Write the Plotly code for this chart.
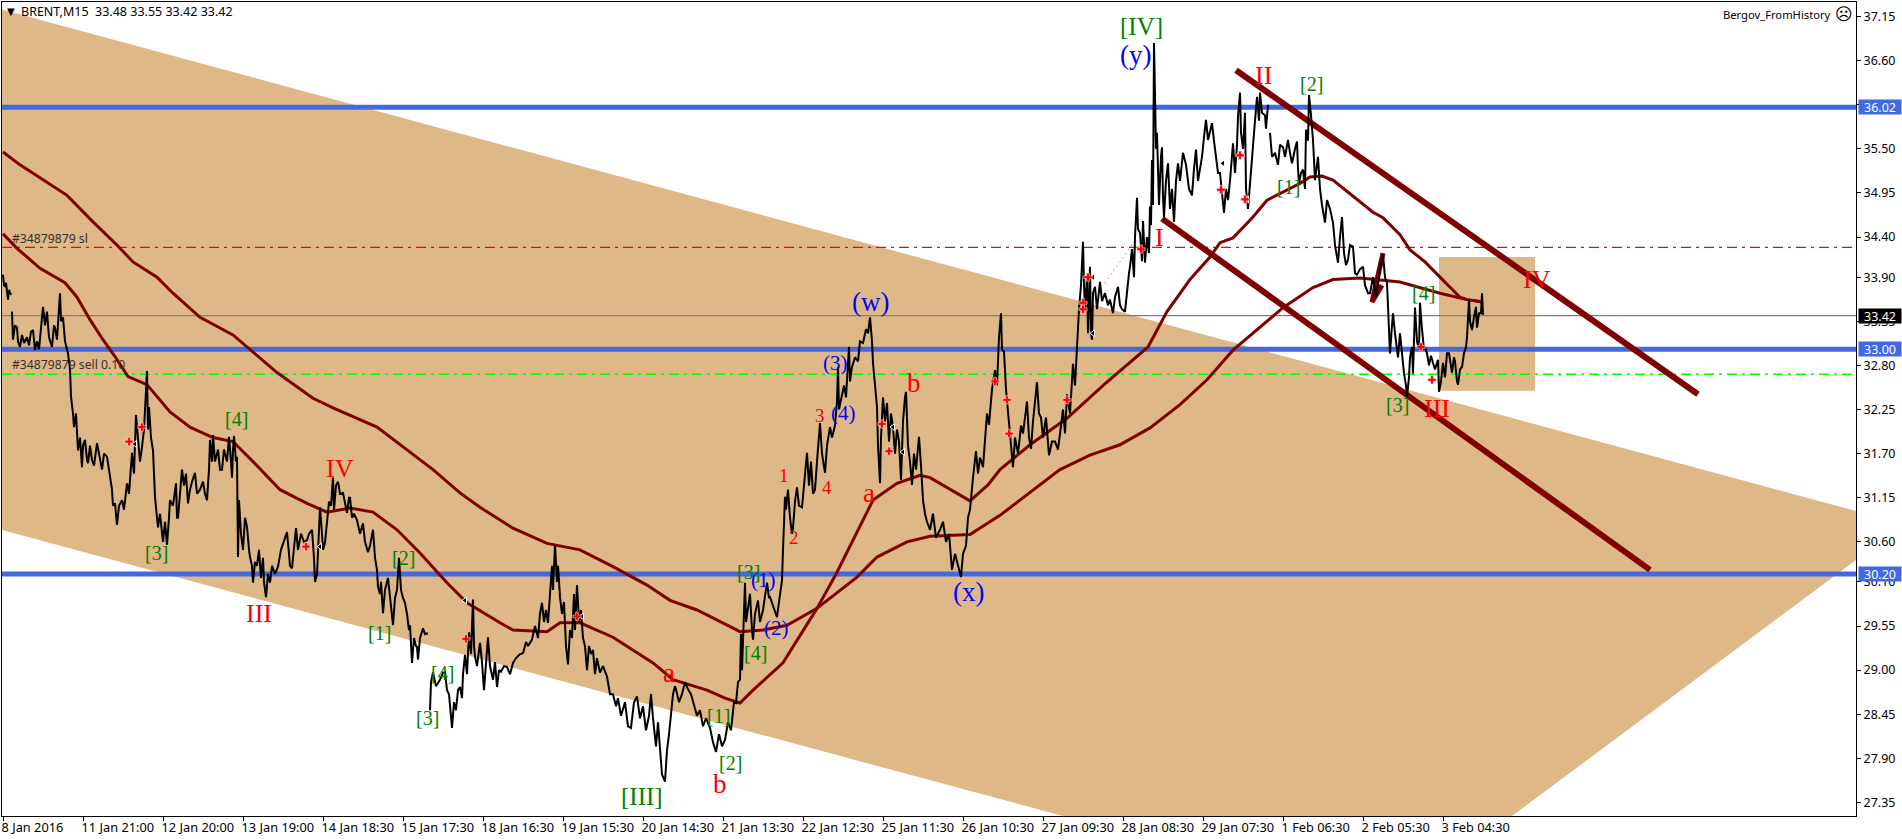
import plotly.graph_objects as go

tick_bars = [3.5 + 80 * i for i in range(19)]
tick_dates = ["8 Jan 2016", "11 Jan 21:00", "12 Jan 20:00", "13 Jan 19:00", "14 Jan 18:30", "15 Jan 17:30",
              "18 Jan 16:30", "19 Jan 15:30", "20 Jan 14:30", "21 Jan 13:30", "22 Jan 12:30", "25 Jan 11:30",
              "26 Jan 10:30", "27 Jan 09:30", "28 Jan 08:30", "29 Jan 07:30", "1 Feb 06:30", "2 Feb 05:30",
              "3 Feb 04:30"]
price_ticks = [37.15, 36.60, 36.05, 35.50, 34.95, 34.40, 33.90, 33.35, 32.80, 32.25, 31.70, 31.15, 30.60,
               30.10, 29.55, 29.00, 28.45, 27.90, 27.35]

close_text = """
3:33.93 4:33.80 5:33.78 6:33.83 8:33.62 9:33.74 11:33.68 11.5:x
12:33.47 13:33.12 15:33.30 17:33.27 18:33.10 20:33.03 22:33.18 24:33.08 27:33.15 29:33.05 31:33.22 33:33.24
35:32.99 37:33.10 39:33.00 41:33.30 43:33.53 45:33.30 47:33.47 49:33.15 52:33.03 54:33.30 55:33.27 57:33.12
60:33.70 61:33.35 63:33.40 65:33.10 68:32.95 70:32.75 71:32.41 73:32.20 74:32.03 76:32.20 78:31.74 80:31.90
82:31.53 83:31.80 85:31.87 87:31.62 88:31.58 90:31.80 92:31.62 94:31.55 97:31.83 99:31.70 102:31.50 104:31.70
107:31.66 109:31.50 112:31.25 113:31.05 115:31.08 117:30.81 119:31.05 122:31.12 124:31.00 127:31.33 129:31.20
132:31.71 134:31.45 136:32.18 138:31.90 140:31.60 142:31.78 144:32.00 147:32.73 148:32.00 149:32.28 151:31.90
153:31.74 154:31.30 155:31.16 157:30.90 158:30.78 160:30.95 163:30.60 165:30.85 167:30.56 169:30.90 170:31.12
173:31.05 176:31.33 177:30.90 178:30.90 180:31.20 182:31.50 184:31.30 186:31.45 188:31.08 190:31.25 192:31.35
195:31.46 197:31.20 200:31.25 203:31.35 205:31.20 207:31.12 209:31.50 210:31.87 212:31.60 213:31.93 215:31.60
218:31.75 220:31.50 222:31.50 224:31.75 227:31.60 229:31.91 231:31.60 232:31.40 233:31.75 234:31.92 236:31.60
237:31.66 238:30.41 239:31.12 241:30.70 243:30.50 245:30.90 247:30.79 249:30.50 250:30.41 252:30.30 253:30.09
255:30.35 257:30.30 259:30.50 261:30.15 263:30.40 264:30.10 266:29.91 268:30.20 270:30.09 272:30.30 275:30.20
278:30.29 281:30.50 284:30.60 287:30.72 289:30.45 290:30.30 292:30.27 294:30.55 296:30.77 298:30.50 301:30.70
304:30.60 307:30.62 309:30.70 312:30.75 314:30.40 315:30.10 317:30.19 318:30.50 320:31.03 322:30.70 323:30.50
325:30.59 327:30.85 329:31.10 331:31.05 333:31.40 334:31.00 336:31.30 338:31.35 340:31.20 343:31.21 345:31.10
347:30.96 349:31.15 350:31.15 352:30.90 354:30.95 357:30.87 360:30.70 363:30.83 365:30.60 368:30.47 370:30.55
373:30.75 375:30.40 377:30.25 378:30.04 380:29.95 381:30.10 383:29.71 385:30.00 388:30.15 390:29.90 391:29.80
393:29.56 395:29.90 397:30.00 399:30.40 401:30.00 403:29.90 405:29.84 407:29.70 409:29.50 410:29.56 411:29.20
412:29.09 414:29.40 416:29.30 417:29.29 418:29.13 420:29.40 423:29.52 425:29.45 428:29.46 429:x
430:28.50 431:28.85 433:28.97 436:28.80 440:28.88 443:28.97 445:28.97 447:28.75 449:28.70 451:28.35 452:28.28
454:28.60 456:28.50 458:28.75 460:28.79 462:28.65 463:28.95 465:29.19 467:28.95 469:29.47 471:29.20 473:29.88
474:29.30 475:29.17 477:29.05 480:29.34 482:29.10 484:28.75 486:29.10 488:29.41 490:29.05 493:28.88 495:29.10
497:28.79 499:29.00 501:28.98 504:29.05 507:29.04 510:28.95 513:29.09 516:29.15 520:29.20 523:29.21 526:29.35
528:29.30 532:29.38 535:29.55 538:29.40 540:29.70 542:29.84 544:29.60 546:29.75 548:29.59 550:30.00 552:30.30
553:30.00 555:30.56 557:30.10 558:30.30 560:29.91 562:29.70 564:29.85 566:29.30 568:29.07 570:29.50 572:29.40
574:29.95 575:29.50 577:30.06 579:29.60 581:29.75 583:29.40 585:29.30 587:29.00 589:29.30 591:29.20 593:29.25
595:28.95 597:29.15 600:28.97 603:29.05 607:28.92 610:28.70 613:28.70 616:28.55 618:28.65 621:28.43 625:28.60
628:28.30 631:28.28 634:28.60 637:28.67 640:28.40 643:28.55 646:28.25 649:28.43 651:28.70 653:28.40 656:28.05
658:28.35 660:27.95 662:27.70 665:27.61 667:28.00 669:28.20 671:28.43 673:28.70 675:28.80 676:28.76 679:28.60
682:28.70 685:28.85 688:28.76 691:28.70 694:28.55 697:28.43 700:28.50 703:28.30 706:28.40 710:28.28 713:28.10
716:27.98 719:28.20 722:28.05 725:28.13 728:28.35 731:28.25 734:28.60 736:28.59 738:28.85 740:28.88 741:29.45
742:29.00 743:29.38 745:30.09 746:29.60 748:29.79 750:29.95 752:29.50 753:29.38 755:29.70 758:29.87 760:29.60
763:29.75 767:30.09 769:29.90 770:29.91 773:29.80 775:29.72 777:29.66 779:29.85 782:30.12 783:30.50 785:31.16
786:31.00 788:31.25 790:30.90 792:30.70 793:30.77 795:31.10 797:31.28 799:31.05 802:31.03 804:31.30 807:31.71
809:31.30 811:31.60 813:31.20 815:31.25 817:31.60 820:32.08 822:31.70 823:31.60 825:31.46 827:31.80 830:32.03
832:31.90 835:32.05 837:32.35 838:32.78 839:32.25 842:32.41 844:32.55 846:32.40 849:33.03 850:32.60 852:32.78
855:32.90 858:32.85 860:33.10 863:33.08 866:33.25 868:33.20 870:33.40 872:33.10 873:32.83 875:32.55 877:32.28
878:31.80 880:31.33 881:31.90 883:32.40 885:32.10 887:32.33 889:31.85 891:32.20 893:32.03 895:31.70 897:32.00
899:31.85 901:31.37 903:32.10 905:32.40 906:32.47 908:31.80 910:31.60 912:31.31 914:31.70 916:31.50 919:31.91
921:31.55 923:31.12 925:30.95 927:30.85 930:30.75 933:30.95 936:30.65 940:30.75 943:30.85 946:30.60 949:30.70
951:30.35 952:30.25 955:30.45 958:30.30 961:30.16 963:30.45 966:30.55 968:30.90 970:31.00 973:31.40 976:31.73
978:31.45 980:31.65 983:31.53 985:31.85 987:32.20 989:32.06 992:32.50 995:32.74 997:32.55 999:33.15 1001:33.45
1002:33.00 1004:32.97 1006:32.50 1008:32.20 1009:32.07 1011:31.80 1013:31.53 1015:31.90 1018:31.70 1021:32.05
1023:31.95 1025:32.15 1027:32.35 1029:31.90 1031:31.76 1033:32.10 1035:32.40 1037:32.59 1039:32.20 1041:32.15
1043:31.90 1046:32.15 1049:31.68 1052:31.85 1055:31.85 1058:31.75 1061:32.05 1063:32.25 1065:31.95 1067:32.44
1070:32.20 1073:32.82 1075:32.55 1077:33.03 1079:33.50 1081:33.80 1083:34.34 1084:33.80 1085:33.50 1087:33.90
1088:33.20 1090:34.03 1091:33.20 1092:33.12 1093:33.70 1095:33.78 1097:33.50 1100:33.84 1102:33.60 1105:33.70
1108:33.55 1110:33.62 1113:33.45 1115:33.65 1118:33.78 1120:33.55 1122:33.50 1125:33.47 1127:33.75 1129:33.95
1130:34.03 1132:34.25 1134:33.90 1135:34.40 1137:34.89 1138:34.50 1140:34.45 1142:34.10 1143:34.60 1145:34.08
1147:34.40 1149:34.20 1150:34.78 1151:34.55 1152:35.36 1153:34.80 1154:36.82 1155:36.11 1156:35.50 1157:35.70
1158:35.11 1159:34.80 1161:35.40 1162:35.52 1163:34.90 1164:34.65 1166:35.10 1168:35.32 1170:34.75 1172:35.00
1174:34.59 1176:35.10 1178:35.32 1180:35.10 1183:35.45 1186:35.30 1189:35.00 1192:34.92 1194:35.25 1196:35.49
1198:35.10 1200:35.27 1202:35.40 1204:35.65 1206:35.86 1208:35.61 1210:35.70 1212:35.82 1214:35.60 1216:35.40
1218:35.20 1220:35.20 1222:34.90 1224:34.70 1226:35.00 1228:34.86 1230:35.10 1233:35.57 1235:35.20 1237:35.55
1238:35.90 1240:36.20 1241:35.70 1243:35.50 1245:35.95 1246:35.00 1248:34.75 1250:35.10 1253:35.57 1255:35.85
1257:36.15 1259:35.85 1260:36.20 1262:35.95 1265:35.92 1266:35.75 1268:36.05 1269:x
1270:35.70 1272:35.40 1275:35.45 1278:35.30 1280:35.55 1283:35.52 1285:35.40 1288:35.61 1290:35.45 1292:35.32
1295:35.50 1297:35.59 1298:35.25 1299:35.07 1301:35.20 1303:35.24 1305:35.00 1306:35.74 1308:35.60 1309:36.17
1311:35.92 1313:35.61 1315:35.11 1318:35.40 1320:35.00 1322:34.80 1325:34.58 1327:34.86 1330:34.75 1333:34.58
1335:34.30 1338:34.08 1340:34.40 1342:34.65 1344:34.20 1346:34.05 1348:34.12 1350:34.30 1353:34.28 1355:33.95
1357:33.93 1360:34.00 1363:34.03 1365:33.80 1368:33.70 1370:33.70 1373:33.90 1376:33.65 1378:33.80 1380:34.00
1383:34.18 1385:33.90 1387:33.83 1388:33.49 1390:32.95 1392:33.30 1393:33.45 1395:33.20 1397:32.95 1398:32.90
1400:33.20 1402:32.90 1404:32.70 1406:32.55 1407:32.41 1409:32.65 1410:32.90 1412:33.03 1413:32.70 1415:33.52
1417:33.10 1419:33.00 1420:33.58 1422:33.25 1424:33.00 1425:33.03 1427:32.95 1429:32.80 1431:32.92 1433:32.83
1435:32.75 1438:32.87 1439:32.47 1441:32.60 1443:32.83 1445:32.65 1447:32.95 1449:32.95 1451:32.75 1452:32.71
1454:32.90 1455:32.85 1457:32.60 1458:32.56 1460:32.75 1462:32.78 1464:32.95 1466:33.03 1467:33.15 1469:33.62
1470:33.35 1472:33.24 1474:33.40 1476:33.53 1477:33.27 1479:33.45 1481:33.45 1482:33.70 1483:33.43
"""
close_bars = [float(t.split(":")[0]) for t in close_text.split()]
close_prices = [None if t.endswith("x") else float(t.split(":")[1]) for t in close_text.split()]

slow_ma_bars = [3, 20, 40, 67, 93, 117, 133, 157, 173, 200, 233, 253, 277, 313, 333, 377, 400, 433, 460, 480, 513,
                547, 580, 613, 647, 670, 697, 740, 763, 787, 817, 857, 877, 907, 930, 970, 1000, 1030, 1060, 1090,
                1120, 1150, 1180, 1207, 1233, 1283, 1313, 1333, 1360, 1400, 1417, 1440, 1467, 1483]
slow_ma = [35.46, 35.30, 35.14, 34.92, 34.59, 34.30, 34.09, 33.90, 33.70, 33.40, 33.18, 32.97, 32.71, 32.39, 32.27,
           32.03, 31.81, 31.50, 31.21, 31.03, 30.77, 30.58, 30.50, 30.29, 30.06, 29.87, 29.75, 29.48, 29.50, 29.56,
           29.77, 30.16, 30.41, 30.60, 30.67, 30.69, 30.93, 31.22, 31.50, 31.68, 31.81, 32.02, 32.31, 32.62, 32.99,
           33.52, 33.77, 33.87, 33.89, 33.84, 33.78, 33.70, 33.62, 33.59]
fast_ma_bars = [3, 17, 40, 65, 77, 90, 103, 115, 128, 147, 170, 190, 213, 233, 253, 280, 307, 327, 350, 373, 397,
                420, 447, 467, 500, 513, 547, 560, 580, 613, 653, 673, 707, 725, 740, 753, 783, 817, 837, 873, 897,
                920, 930, 970, 988, 1000, 1030, 1067, 1104, 1130, 1148, 1167, 1190, 1210, 1220, 1233, 1253, 1267,
                1300, 1310, 1322, 1333, 1373, 1383, 1400, 1410, 1425, 1440, 1460, 1467, 1483]
fast_ma = [34.44, 34.26, 34.01, 33.83, 33.65, 33.37, 33.12, 32.91, 32.66, 32.56, 32.22, 32.03, 31.90, 31.85, 31.60,
           31.25, 31.08, 30.97, 31.02, 30.97, 30.75, 30.46, 30.09, 29.84, 29.59, 29.50, 29.48, 29.59, 29.59, 29.41,
           29.09, 28.88, 28.75, 28.65, 28.59, 28.75, 29.09, 29.77, 30.22, 31.12, 31.33, 31.43, 31.40, 31.11, 31.31,
           31.50, 31.81, 32.14, 32.56, 32.84, 33.03, 33.47, 33.87, 34.15, 34.33, 34.39, 34.65, 34.86, 35.07, 35.15,
           35.16, 35.11, 34.71, 34.64, 34.43, 34.24, 34.09, 33.90, 33.65, 33.62, 33.59]

channel_bars = [2, 1856, 1856, 1512, 1063, 2, 2]
channel_prices = [37.238, 30.984, 30.373, 27.181, 27.181, 30.747, 37.238]
box_bars = [1439, 1535, 1535, 1439, 1439]
box_prices = [34.151, 34.151, 32.484, 32.484, 34.151]
trend_upper_bars = [1236, 1698]
trend_upper = [36.48, 32.44]
trend_lower_bars = [1162, 1650]
trend_lower = [34.63, 30.25]
trend_small_bars = [1383, 1372, 1382]
trend_small = [34.20, 33.59, 33.80]
level_prices = [36.02, 33.00, 30.20]
last_price = 33.42
sl_price = 34.272
entry_price = 32.689
dotted_bars = [1105, 1137]
dotted_prices = [33.83, 34.39]
order_bars = [129, 142, 306, 466, 577, 882, 889, 995, 1007, 1009, 1067, 1083, 1083, 1088, 1141, 1240, 1221, 1245, 1421, 1432]
order_prices = [31.85, 32.03, 30.54, 29.39, 29.67, 32.07, 31.73, 32.60, 32.37, 31.95, 32.37, 33.58, 33.50, 33.90, 34.25,
                35.42, 34.99, 34.87, 33.03, 32.62]
close_mark_bars = [135, 320, 465, 582, 893, 903, 1093, 1093, 1223, 1247]
close_mark_prices = [31.82, 30.54, 29.87, 29.67, 32.03, 31.72, 33.90, 33.20, 35.32, 34.87]

wave_labels = ["[4]", "[3]", "III", "IV", "[2]", "[1]", "[4]", "[3]", "(w)", "(3)", "b", "3", "(4)", "1", "4", "a", "2",
               "[3]", "(1)", "(2)", "[4]", "a", "[1]", "[2]", "b", "[III]", "(x)", "[IV]", "(y)", "II", "I", "[1]", "[2]",
               "[4]", "IV", "III", "[3]"]
wave_bars = [236, 156, 259, 340, 403, 379, 442, 427, 870, 835, 914, 820, 843, 784, 827, 869, 794, 748, 763, 776, 755,
             669, 718, 730, 720, 642, 968, 1141, 1135, 1263, 1159, 1288, 1311, 1423, 1537, 1437, 1397]
wave_prices = [32.13, 30.46, 29.71, 31.51, 30.40, 29.46, 28.97, 28.40, 33.59, 32.83, 32.58, 32.18, 32.21, 31.43, 31.28,
               31.21, 30.65, 30.22, 30.12, 29.53, 29.21, 28.97, 28.43, 27.84, 27.58, 27.42, 29.97, 37.02, 36.67, 36.42,
               34.39, 35.02, 36.31, 33.70, 33.87, 32.26, 32.31]
wave_colors = ["#008000", "#008000", "#FF0000", "#FF0000", "#008000", "#008000", "#008000", "#008000", "#0000FF",
               "#0000FF", "#FF0000", "#FF0000", "#0000FF", "#FF0000", "#FF0000", "#FF0000", "#FF0000", "#008000",
               "#0000FF", "#0000FF", "#008000", "#FF0000", "#008000", "#008000", "#FF0000", "#008000", "#0000FF",
               "#008000", "#0000FF", "#FF0000", "#FF0000", "#008000", "#008000", "#008000", "#FF0000", "#FF0000", "#008000"]
wave_sizes = [20, 20, 26, 26, 20, 20, 20, 20, 27, 21, 27, 19, 21, 19, 19, 27, 19, 20, 21, 21, 20, 27, 20, 20, 27, 25, 27,
              25, 27, 26, 26, 20, 20, 20, 26, 26, 20]

X0, X1 = 2, 1856
Y_TOP, Y_BOT = 37.331, 27.181
MAROON = "#800000"
UI = "Noto Sans"
fig = go.Figure()


def add_line(x, y, color, width, dash="solid", fill=None):
    fig.add_trace(go.Scatter(x=x, y=y, mode="lines", fill=fill, fillcolor=color if fill else None,
                             line=dict(color=color, width=width, dash=dash), hoverinfo="skip",
                             connectgaps=False))


add_line(channel_bars, channel_prices, "#DEB887", 0, fill="toself")
add_line(box_bars, box_prices, "#DEB887", 0, fill="toself")
add_line([X0, X1], [sl_price, sl_price], "#FF0000", 1.3, "10px,5px,3px,5px")
add_line([X0, X1], [entry_price, entry_price], "#00FF00", 1.3, "10px,5px,3px,5px")
add_line([X0, X1], [last_price, last_price], "#808080", 1.2)
for lv in level_prices:
    add_line([X0, X1], [lv, lv], "#4169E1", 5)
add_line(slow_ma_bars, slow_ma, MAROON, 3)
add_line(fast_ma_bars, fast_ma, MAROON, 3)
add_line(trend_upper_bars, trend_upper, MAROON, 6)
add_line(trend_lower_bars, trend_lower, MAROON, 6)
add_line(trend_small_bars, trend_small, MAROON, 5)
add_line(dotted_bars, dotted_prices, "#FF0000", 1, "1px,4px")
fig.add_trace(go.Scatter(x=close_bars, y=close_prices, mode="lines", line=dict(color="#000000", width=2),
                         connectgaps=False, hoverinfo="skip"))
fig.add_trace(go.Scatter(x=close_mark_bars, y=close_mark_prices, mode="markers", hoverinfo="skip",
                         marker=dict(symbol="triangle-left", size=6, color="#000000",
                                     line=dict(width=1, color="#FFFFFF"))))
fig.add_trace(go.Scatter(x=order_bars, y=order_prices, mode="markers", hoverinfo="skip",
                         marker=dict(symbol="cross", size=7, color="#FF0000", line=dict(width=0.5, color="#FFFFFF"))))

ann = []
for t, b, p, c, s in zip(wave_labels, wave_bars, wave_prices, wave_colors, wave_sizes):
    ann.append(dict(text=t, x=b, y=p, showarrow=False, font=dict(family="Liberation Serif", size=s, color=c),
                    xanchor="center", yanchor="middle"))
ann.append(dict(text="#34879879 sl", x=10, y=sl_price, yanchor="bottom", xanchor="left", showarrow=False,
                yshift=-2, font=dict(family=UI, size=12.2, color="#333333")))
ann.append(dict(text="#34879879 sell 0.10", x=10, y=entry_price, yanchor="bottom", xanchor="left", showarrow=False,
                yshift=-1, font=dict(family=UI, size=12.2, color="#333333")))
ann.append(dict(text="▼", x=10.5, y=37.21, showarrow=False, xanchor="center", yanchor="middle",
                font=dict(family="DejaVu Sans", size=10, color="#000000")))
ann.append(dict(text="BRENT,M15  33.48 33.55 33.42 33.42", x=19, y=37.21, showarrow=False, xanchor="left",
                yanchor="middle", font=dict(family=UI, size=12.5, color="#000000")))
ann.append(dict(text="Bergov_FromHistory", x=1833, y=37.18, showarrow=False, xanchor="right",
                yanchor="middle", font=dict(family=UI, size=11.2, color="#000000")))
ann.append(dict(text="☹", x=1844, y=37.18, showarrow=False, xanchor="center",
                yanchor="middle", font=dict(family="DejaVu Sans", size=17, color="#000000")))
for p, bg in [(36.02, "#4169E1"), (33.00, "#4169E1"), (30.20, "#4169E1"), (33.42, "#000000")]:
    ann.append(dict(text=f"{p:.2f}", xref="paper", x=(1858 - X0) / (X1 - X0), y=p, showarrow=False, xanchor="left",
                    yanchor="middle", width=42, height=14, bgcolor=bg, borderpad=0, align="center",
                    font=dict(family=UI, size=12.5, color="#FFFFFF")))

fig.update_layout(
    width=1902, height=839, autosize=False, showlegend=False, plot_bgcolor="#FFFFFF", paper_bgcolor="#FFFFFF",
    margin=dict(l=X0, r=1902 - X1, t=2, b=23, pad=0), annotations=ann,
    xaxis=dict(range=[X0, X1], tickmode="array", tickvals=tick_bars, ticktext=tick_dates, showgrid=False, zeroline=False,
               ticks="outside", ticklen=4, tickcolor="#000000", tickwidth=1, showline=True, linecolor="#000000",
               linewidth=1, mirror=True, ticklabelposition="outside right", ticklabelshift=-3, tickangle=0,
               automargin=False, tickfont=dict(family=UI, size=12.8, color="#000000")),
    yaxis=dict(range=[Y_BOT, Y_TOP], side="right", tickmode="array", tickvals=price_ticks,
               ticktext=[f"{v:.2f}" for v in price_ticks], showgrid=False, zeroline=False, ticks="outside", ticklen=4,
               tickcolor="#000000", tickwidth=1, showline=True, linecolor="#000000", linewidth=1, mirror=True,
               automargin=False, tickfont=dict(family=UI, size=12.5, color="#000000")),
)
fig.write_html("out.html", config={"displayModeBar": False},
               post_script="document.body.style.margin='0';document.documentElement.style.overflow='hidden';")
